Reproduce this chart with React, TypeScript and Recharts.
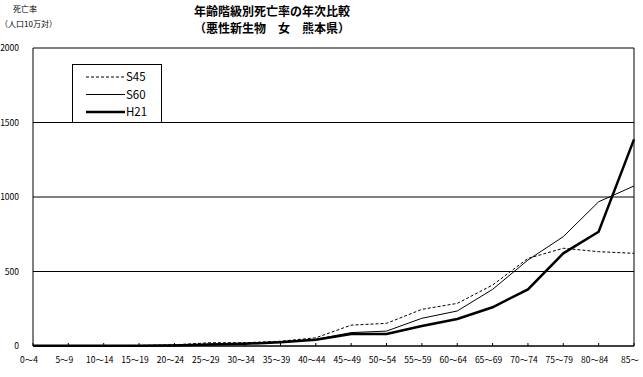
import React from 'react';
import { LineChart, Line, XAxis, YAxis, CartesianGrid, ReferenceLine, Legend } from 'recharts';

const ageGroups = [
  '0～4', '5～9', '10～14', '15～19', '20～24', '25～29', '30～34', '35～39', '40～44',
  '45～49', '50～54', '55～59', '60～64', '65～69', '70～74', '75～79', '80～84', '85～',
];
const s45 = [3, 2, 2, 4, 8, 22, 22, 32, 55, 140, 152, 246, 286, 409, 588, 656, 633, 622];
const s60 = [3, 2, 2, 3, 6, 12, 18, 28, 45, 90, 100, 186, 235, 380, 577, 734, 968, 1074];
const h21 = [2, 1, 1, 2, 4, 10, 15, 25, 42, 80, 80, 134, 181, 260, 380, 622, 767, 1387];
const yTicks = [0, 500, 1000, 1500, 2000];

const data = ageGroups.map((age, i) => ({ age, S45: s45[i], S60: s60[i], H21: h21[i] }));

const FONT = '"Noto Sans CJK JP", "Liberation Sans", sans-serif';

const legendItems = [
  { name: 'S45', width: 1, dash: '3 2' },
  { name: 'S60', width: 1, dash: undefined },
  { name: 'H21', width: 2.5, dash: undefined },
];

const XTick = (props: any) => {
  const { x, payload } = props;
  return (
    <g>
      <line x1={x} y1={346} x2={x} y2={343} stroke="#000" />
      <text x={x - 4} y={363} textAnchor="middle" fontSize={8.5} fontFamily={FONT} fill="#000">
        {payload.value}
      </text>
    </g>
  );
};

const YTick = (props: any) => {
  const { y, payload } = props;
  return (
    <text x={19} y={y + 3} textAnchor="end" fontSize={8.5} fontFamily={FONT} fill="#000">
      {payload.value}
    </text>
  );
};

const LegendBox = () => (
  <svg width={88} height={57} style={{ display: 'block' }}>
    {legendItems.map((item, i) => {
      const y = 12 + i * 17.5;
      return (
        <g key={item.name}>
          <line x1={13} y1={y} x2={52} y2={y} stroke="#000" strokeWidth={item.width} strokeDasharray={item.dash} />
          <text x={53} y={y + 4} fontSize={11.5} fontFamily={FONT} fill="#000">{item.name}</text>
        </g>
      );
    })}
  </svg>
);

const textBase: React.CSSProperties = { position: 'absolute', textAlign: 'center', whiteSpace: 'nowrap', fontFamily: FONT };

export default function App() {
  return (
    <div style={{ position: 'absolute', left: 0, top: 0, width: 643, height: 377, background: '#fff' }}>
      <div style={{ ...textBase, left: 0, top: 4, width: 50, fontSize: 8, lineHeight: '10px' }}>死亡率</div>
      <div style={{ ...textBase, left: 0, top: 19, width: 52, fontSize: 8, lineHeight: '10px' }}>（人口10万対）</div>
      <div style={{ ...textBase, left: 172, top: 3, width: 200, fontSize: 12, fontWeight: 'bold', lineHeight: '15px' }}>
        年齢階級別死亡率の年次比較
      </div>
      <div style={{ ...textBase, left: 172, top: 20, width: 200, fontSize: 12, fontWeight: 'bold', lineHeight: '15px' }}>
        （悪性新生物　女　熊本県）
      </div>
      <LineChart width={643} height={377} data={data} margin={{ top: 48, right: 9, bottom: 0, left: 0 }}>
        <CartesianGrid vertical={false} stroke="#000" strokeDasharray="" />
        <XAxis dataKey="age" height={31} tickLine={false} axisLine={{ stroke: '#000' }} tick={<XTick />} interval={0} />
        <YAxis width={33} domain={[0, 2000]} ticks={yTicks} tickLine={false} axisLine={{ stroke: '#000' }} tick={<YTick />} />
        <ReferenceLine x="85～" stroke="#000" />
        <Legend
          layout="vertical"
          align="center"
          verticalAlign="middle"
          content={() => <LegendBox />}
          wrapperStyle={{ left: 72, top: 64, width: 88, height: 57, border: '1px solid #000', background: '#fff' }}
        />
        <Line dataKey="S45" stroke="#000" strokeWidth={1} strokeDasharray="3 2" dot={false} isAnimationActive={false} />
        <Line dataKey="S60" stroke="#000" strokeWidth={1} dot={false} isAnimationActive={false} />
        <Line dataKey="H21" stroke="#000" strokeWidth={2.5} dot={false} isAnimationActive={false} />
      </LineChart>
    </div>
  );
}
